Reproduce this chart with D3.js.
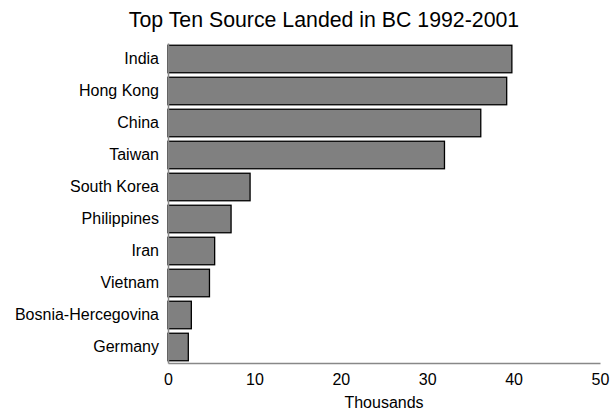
<!DOCTYPE html>
<html>
<head>
<script src="https://cdn.jsdelivr.net/npm/d3@7"></script>
<style>
  body { margin: 0; background: #fff; }
  text { font-family: "Liberation Sans", Arial, sans-serif; }
</style>
</head>
<body>
<div id="chart"></div>
<script>
// source countries, top to bottom
var countries = ["India", "Hong Kong", "China", "Taiwan", "South Korea",
                 "Philippines", "Iran", "Vietnam", "Bosnia-Hercegovina", "Germany"];
// landed immigrants, thousands
var landed = [39.8, 39.2, 36.2, 32.0, 9.5, 7.3, 5.4, 4.8, 2.7, 2.35];
var xTicks = [0, 10, 20, 30, 40, 50];

var width = 615, height = 412;
var margin = {top: 43, right: 15, bottom: 49, left: 168};

var svg = d3.select("#chart").append("svg")
    .attr("width", width)
    .attr("height", height);

var x = d3.scaleLinear().domain([0, 50]).range([margin.left, width - margin.right]);
var y = d3.scaleBand().domain(countries)
    .range([margin.top, height - margin.bottom])
    .paddingInner(0.14).paddingOuter(0.07);

var data = countries.map(function(c, i) { return {name: c, value: landed[i]}; });

svg.selectAll("rect.bar")
    .data(data)
    .enter()
    .append("rect")
    .attr("class", "bar")
    .attr("x", x(0))
    .attr("y", function(d) { return y(d.name); })
    .attr("width", function(d) { return x(d.value) - x(0); })
    .attr("height", y.bandwidth())
    .style("fill", "#808080")
    .style("stroke", "#000")
    .style("stroke-width", 1.3);

// x axis
var xAxis = svg.append("g")
    .attr("transform", "translate(0," + (height - margin.bottom) + ")")
    .call(d3.axisBottom(x).tickValues(xTicks).tickSize(0).tickPadding(11));
xAxis.select(".domain").attr("stroke", "#888").attr("stroke-width", 1.5);
xAxis.selectAll("text").attr("font-size", 16).attr("fill", "#000")
    .style("font-family", "Liberation Sans, Arial, sans-serif");

// y axis
var yAxis = svg.append("g")
    .attr("transform", "translate(" + margin.left + ",0)")
    .call(d3.axisLeft(y).tickSize(0).tickPadding(9));
yAxis.select(".domain").attr("stroke", "#888").attr("stroke-width", 1.5);
yAxis.selectAll("text").attr("font-size", 16).attr("fill", "#000")
    .style("font-family", "Liberation Sans, Arial, sans-serif");

svg.append("text")
    .attr("x", 324)
    .attr("y", 27)
    .attr("text-anchor", "middle")
    .attr("font-size", 21.3)
    .text("Top Ten Source Landed in BC 1992-2001");

svg.append("text")
    .attr("x", (x(0) + x(50)) / 2)
    .attr("y", 408)
    .attr("text-anchor", "middle")
    .attr("font-size", 16)
    .text("Thousands");
</script>
</body>
</html>
